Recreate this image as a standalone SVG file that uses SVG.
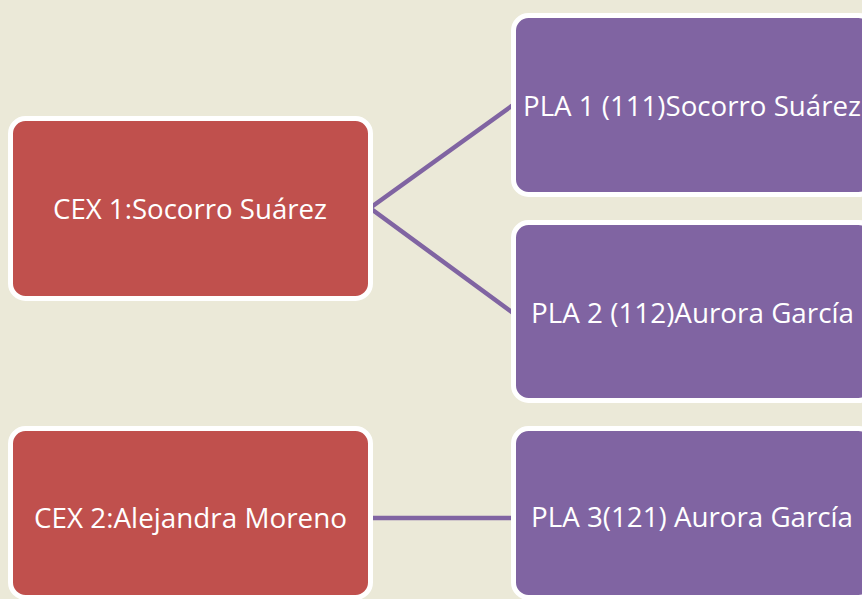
<svg xmlns="http://www.w3.org/2000/svg" width="862" height="599" viewBox="0 0 862 599">
<style>
.bg{fill:#EBE9D8}
.red{fill:#C0504D;stroke:#FFFFFF;stroke-width:5}
.pur{fill:#8064A2;stroke:#FFFFFF;stroke-width:5}
.lbl{fill:#FFFFFF;font-family:"Open Sans","Noto Sans","Liberation Sans",sans-serif;font-size:26.5px}
.con{fill:none;stroke:#8064A2;stroke-width:4.5;stroke-linejoin:miter}
</style>
<rect class="bg" x="0" y="0" width="862" height="599"/>
<g id="connectors">
<polyline class="con" points="513,105 370,208 513,313"/>
<line class="con" x1="372" y1="518" x2="513" y2="518" stroke-width="5"/>
</g>
<g id="cex1">
<rect class="red" x="10.5" y="118.5" width="360" height="180" rx="15"/>
<text class="lbl" x="53" y="219" textLength="274" lengthAdjust="spacingAndGlyphs">CEX 1:Socorro Suárez</text>
</g>
<g id="pla1">
<rect class="pur" x="513.5" y="15.5" width="360" height="179" rx="15"/>
<text class="lbl" x="523" y="116" textLength="338" lengthAdjust="spacingAndGlyphs">PLA 1 (111)Socorro Suárez</text>
</g>
<g id="pla2">
<rect class="pur" x="513.5" y="222.5" width="360" height="178" rx="15"/>
<text class="lbl" x="531" y="323" textLength="323" lengthAdjust="spacingAndGlyphs">PLA 2 (112)Aurora García</text>
</g>
<g id="cex2">
<rect class="red" x="10.5" y="428.5" width="360" height="169" rx="15"/>
<text class="lbl" x="34" y="528" textLength="313" lengthAdjust="spacingAndGlyphs">CEX 2:Alejandra Moreno</text>
</g>
<g id="pla3">
<rect class="pur" x="513.5" y="428.5" width="360" height="169" rx="15"/>
<text class="lbl" x="531" y="527" textLength="322" lengthAdjust="spacingAndGlyphs">PLA 3(121) Aurora García</text>
</g>
</svg>
